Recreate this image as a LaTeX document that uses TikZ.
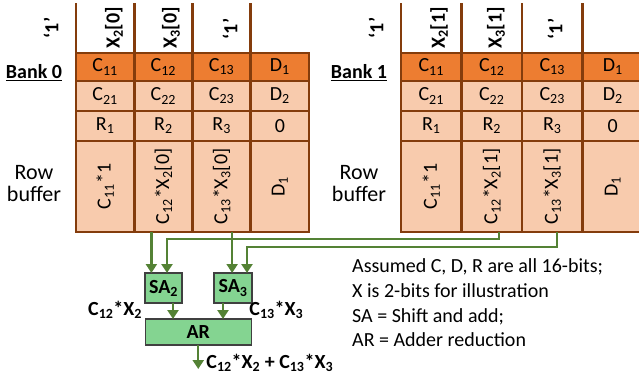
\documentclass[tikz,border=0pt]{standalone}
\usepackage{fontspec}
\setmainfont{Carlito}
\usepackage{graphicx}
\usetikzlibrary{calc,arrows.meta,positioning}
\definecolor{bankorange}{RGB}{237,125,49}
\definecolor{banklight}{RGB}{248,203,173}
\definecolor{bankedge}{RGB}{132,60,12}
\definecolor{wiregreen}{RGB}{84,130,53}
\definecolor{unitgreen}{RGB}{132,212,145}
\definecolor{unitedge}{RGB}{64,64,64}
\newcommand{\cellfont}{\fontsize{20}{21}\selectfont}
\newcommand{\notefont}{\fontsize{20}{24.7}\selectfont}

\begin{document}
\begin{tikzpicture}[x=1pt, y=-1pt, >={Triangle[width=11pt,length=9pt]},
    cell/.style={draw=bankedge, line width=2.6pt, fill=banklight, inner sep=0pt, outer sep=0pt, font=\cellfont},
    hdr/.style={rotate=90, inner sep=0pt, font=\cellfont\bfseries},
    unit/.style={draw=unitedge, line width=1.3pt, fill=unitgreen, inner sep=0pt, outer sep=0pt, font=\cellfont\bfseries},
    wire/.style={wiregreen, line width=2.4pt},
    prod/.style={inner sep=0pt, font=\cellfont\bfseries}]
    \useasboundingbox (0,0) rectangle (639,377);
    \clip (0,0) rectangle (639,377);
    % the two banks
    \foreach \b/\x/\w in {0/76/58.25, 1/401/60.5}{
        \node[font=\cellfont\bfseries, inner sep=0pt] (bank\b) at (\x-42,73) {\underline{Bank \b}};
        \node[font=\fontsize{22}{22}\selectfont, align=center, inner sep=0pt] (rowbuf\b) at (\x-42,184) {Row\\buffer};
        \foreach \c/\cA/\cB/\cC in {1/C\textsubscript{11}/C\textsubscript{21}/R\textsubscript{1},
                2/C\textsubscript{12}/C\textsubscript{22}/R\textsubscript{2},
                3/C\textsubscript{13}/C\textsubscript{23}/R\textsubscript{3},
                4/D\textsubscript{1}/D\textsubscript{2}/0}{
            \node[cell, fill=bankorange, minimum width=\w pt, minimum height=28pt] (b\b-r1c\c) at (\x+\w*\c-\w/2,67) {\cA};
            \node[cell, minimum width=\w pt, minimum height=30pt] (b\b-r2c\c) at (\x+\w*\c-\w/2,96) {\cB};
            \node[cell, minimum width=\w pt, minimum height=30pt] (b\b-r3c\c) at (\x+\w*\c-\w/2,126) {\cC};
            \draw[bankedge, line width=2.6pt] (b\b-r1c\c.north west) -- ++(0,-50);
        }
        % row buffer
        \node[cell, minimum width=\w pt, minimum height=91pt] (b\b-rb1) at (\x+\w/2,186.5)
            {\rotatebox{90}{C\textsubscript{11}*1}};
        \node[cell, minimum width=\w pt, minimum height=91pt] (b\b-rb2) at (\x+\w*1.5,186.5)
            {\rotatebox{90}{C\textsubscript{12}*X\textsubscript{2}[\b]}};
        \node[cell, minimum width=\w pt, minimum height=91pt] (b\b-rb3) at (\x+\w*2.5,186.5)
            {\rotatebox{90}{C\textsubscript{13}*X\textsubscript{3}[\b]}};
        \node[cell, minimum width=\w pt, minimum height=91pt] (b\b-rb4) at (\x+\w*3.5,186.5)
            {\rotatebox{90}{D\textsubscript{1}}};
        % operand bits on top
        \node[hdr] (h\b-1) at (\x-25,28) {‘1’};
        \node[hdr] (h\b-2) at (\x+38,28) {X\textsubscript{2}[\b]};
        \node[hdr] (h\b-3) at (\x+95,28) {X\textsubscript{3}[\b]};
        \node[hdr] (h\b-4) at (\x+154,29) {‘1’};
    }
    % shift-and-add and adder reduction
    \node[unit, minimum width=37pt, minimum height=30pt] (sa2) at (163.5,288) {SA\textsubscript{2}};
    \node[unit, minimum width=38pt, minimum height=30pt] (sa3) at (233,288) {SA\textsubscript{3}};
    \coordinate (mid) at ($(sa2.south)!0.5!(sa3.south)$);
    \node[unit, below=16pt of mid, minimum width=106pt, minimum height=26pt] (ar) {AR};
    \coordinate (sa2b) at ([xshift=3.5pt]sa2.north);
    \coordinate (sa3b) at ([xshift=14pt]sa3.north);
    \draw[wire,->] ([xshift=-12pt]b0-rb2.south) -- ([xshift=-12pt]b0-rb2.south |- sa2.north);
    \draw[wire,->] ([xshift=10.5pt]b0-rb3.south) -- ([xshift=10.5pt]b0-rb3.south |- sa3.north);
    \draw[wire,->] ([xshift=7pt]b1-rb2.south) -- ++(0,7) -| (sa2b);
    \draw[wire,->] ([xshift=4.5pt]b1-rb3.south) -- ++(0,15) -| (sa3b);
    \draw[wire,->] ([xshift=9.5pt]sa2.south) -- ([xshift=9.5pt]sa2.south |- ar.north);
    \draw[wire,->] ([xshift=-10pt]sa3.south) -- ([xshift=-10pt]sa3.south |- ar.north);
    \draw[wire,->] (ar.south) -- ++(0,24) coordinate (out);
    \node[prod, anchor=east] (p2) at ([shift={(-3,-9)}]ar.north west) {C\textsubscript{12}*X\textsubscript{2}};
    \node[prod, anchor=west] (p3) at ([shift={(-2,-9)}]ar.north east) {C\textsubscript{13}*X\textsubscript{3}};
    \node[prod, anchor=west] (sum) at ([shift={(8,-6)}]out)
        {C\textsubscript{12}*X\textsubscript{2} + C\textsubscript{13}*X\textsubscript{3}};
    \node[anchor=west, align=left, inner sep=0pt, font=\notefont] (note) at (352,303)
        {Assumed C, D, R are all 16-bits;\\X is 2-bits for illustration\\SA = Shift and add;\\AR = Adder reduction};
\end{tikzpicture}
\end{document}
